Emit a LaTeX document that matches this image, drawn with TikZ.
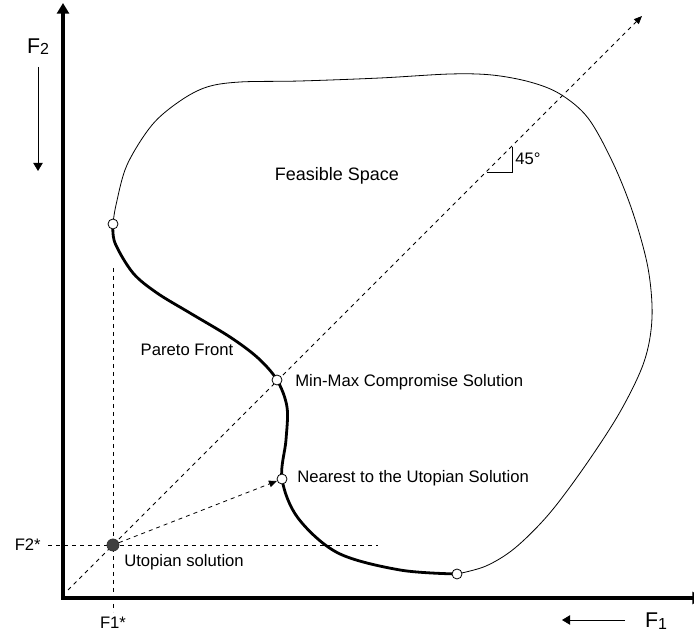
\documentclass[tikz,border=0pt]{standalone}
\usepackage{fontspec}
\setmainfont{Liberation Sans}
\usetikzlibrary{arrows.meta}
\begin{document}
\begin{tikzpicture}[x=0.75pt,y=-0.75pt,
  axisline/.style={line width=2.3pt},
  guideline/.style={line width=0.6pt,dash pattern=on 3pt off 3pt},
  frontline/.style={line width=2.1pt},
  outline/.style={line width=0.6pt},
  opendot/.style={circle,draw,fill=white,line width=0.6pt,minimum size=7.5pt,inner sep=0pt},
  utodot/.style={circle,draw=black!80,fill=black!75,line width=0.6pt,minimum size=9pt,inner sep=0pt},
  lbl/.style={font=\fontsize{12.5pt}{14pt}\selectfont,inner sep=0pt},
  axlbl/.style={font=\fontsize{16pt}{18pt}\selectfont,inner sep=0pt},
  smalltip/.style={-{Triangle[length=6pt,width=5pt]}},
]
\useasboundingbox (0,0) rectangle (694,634);

% axes
\coordinate (O) at (63,598);
\coordinate (ytop) at (63,3);
\coordinate (xend) at (703,598);
\draw[axisline,{Triangle[length=8pt,width=9pt]}-{Triangle[length=8pt,width=9pt]}] (ytop) -- (O) -- (xend);

% direction labels
\node[axlbl] (f2) at (38,47) {F\raisebox{-1pt}{\fontsize{12pt}{14pt}\selectfont 2}};
\coordinate (f2a) at (38,67);
\coordinate (f2b) at (38,171);
\draw[line width=0.6pt,-{Triangle[length=6pt,width=7pt]}] (f2a) -- (f2b);
\node[axlbl] (f1) at (656,621) {F\raisebox{-1pt}{\fontsize{12pt}{14pt}\selectfont 1}};
\coordinate (f1a) at (625,620);
\coordinate (f1b) at (562,620);
\draw[line width=0.6pt,-{Triangle[length=6pt,width=7pt]}] (f1a) -- (f1b);

% key points
\coordinate (pA) at (113,224);
\coordinate (pM) at (277,380);
\coordinate (pN) at (282,479);
\coordinate (pB) at (457,574);
\coordinate (U) at (113,545);

% feasible space boundary
\draw[outline] plot[smooth,tension=0.55] coordinates {
  (pA) (116,205) (127,165) (152,125) (180,101) (207,87) (240,82) (300,81)
  (380,78) (450,74) (492,75) (530,82) (560,94) (588,118) (613,163) (633,213)
  (648,268) (652,318) (644,362) (620,412) (585,466) (549,514) (515,548)
  (486,566) (pB)};

% guide lines through the utopian point
\coordinate (hL) at (48,545);
\coordinate (hR) at (378,545);
\coordinate (vT) at (113,268);
\coordinate (vB) at (113,612);
\draw[guideline] (hL) -- (hR);
\draw[guideline] (vT) -- (vB);
\coordinate (dS) at (68,590);
\coordinate (dE) at (642,16);
\draw[guideline,smalltip] (dS) -- (dE);

% 45 degree mark
\coordinate (aA) at (487,172);
\coordinate (aC) at (512,172);
\coordinate (aB) at (512,147);
\draw[line width=0.6pt] (aA) -- (aC) -- (aB);
\node[lbl,anchor=west] (deg) at (515,159) {45°};

% Pareto front
\draw[frontline] plot[smooth,tension=0.55] coordinates {
  (pA) (115,243) (133,273) (157,293) (190,313) (230,337) (258,358) (pM)
  (287,407) (286,440) (pN) (298,518) (338,553) (400,570) (pB)};

% solution markers
\node[opendot] (nA) at (pA) {};
\node[opendot] (nM) at (pM) {};
\node[opendot] (nN) at (pN) {};
\node[opendot] (nB) at (pB) {};
\node[utodot] (nU) at (U) {};

% shortest distance to the front
\draw[guideline,smalltip] (nU) -- (nN);

% labels
\node[font=\fontsize{13.5pt}{16pt}\selectfont,inner sep=0pt] (fs) at (337,176) {Feasible Space};
\node[lbl] (pf) at (187,350) {Pareto Front};
\node[lbl,anchor=west] (lm) at (295,382) {Min-Max Compromise Solution};
\node[lbl,anchor=west] (ln) at (297,478) {Nearest to the Utopian Solution};
\node[lbl,anchor=west] (lu) at (124,562) {Utopian solution};
\node[lbl,anchor=east] (lf2) at (41,545) {F2*};
\node[lbl] (lf1) at (113,623) {F1*};
\end{tikzpicture}
\end{document}
